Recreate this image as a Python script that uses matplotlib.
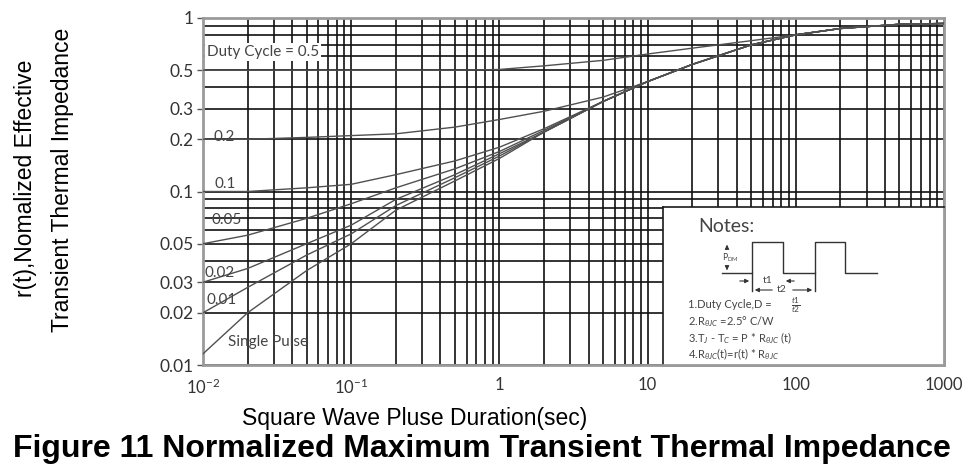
import numpy as np
import matplotlib.pyplot as plt
from matplotlib.ticker import LogLocator, NullFormatter, FixedLocator, FixedFormatter

# pulse duration (s)
t = [0.01, 0.02, 0.05, 0.1, 0.2, 0.5, 1, 2, 5, 10, 20, 50, 100, 200, 500, 1000]

# r(t) for each duty cycle
r_d50 = [0.50, 0.50, 0.50, 0.50, 0.50, 0.50, 0.505, 0.53, 0.57, 0.62, 0.67, 0.74, 0.80, 0.87, 0.92, 0.93]
r_d20 = [0.20, 0.20, 0.205, 0.21, 0.215, 0.235, 0.26, 0.29, 0.35, 0.43, 0.54, 0.70, 0.80, 0.87, 0.92, 0.93]
r_d10 = [0.10, 0.10, 0.105, 0.11, 0.125, 0.15, 0.18, 0.23, 0.33, 0.43, 0.54, 0.70, 0.80, 0.87, 0.92, 0.93]
r_d05 = [0.05, 0.056, 0.07, 0.085, 0.105, 0.135, 0.17, 0.225, 0.33, 0.43, 0.54, 0.70, 0.80, 0.87, 0.92, 0.93]
r_d02 = [0.03, 0.036, 0.05, 0.064, 0.09, 0.125, 0.165, 0.22, 0.33, 0.43, 0.54, 0.70, 0.80, 0.87, 0.92, 0.93]
r_d01 = [0.02, 0.028, 0.043, 0.057, 0.083, 0.12, 0.16, 0.22, 0.33, 0.43, 0.54, 0.70, 0.80, 0.87, 0.92, 0.93]
r_single = [0.0116, 0.02, 0.035, 0.05, 0.078, 0.115, 0.155, 0.22, 0.33, 0.43, 0.54, 0.70, 0.80, 0.87, 0.92, 0.93]

curves = [r_d50, r_d20, r_d10, r_d05, r_d02, r_d01, r_single]

y_ticks = [0.01, 0.02, 0.03, 0.05, 0.1, 0.2, 0.3, 0.5, 1]
y_labels = ['0.01', '0.02', '0.03', '0.05', '0.1', '0.2', '0.3', '0.5', '1']
x_ticks = [0.01, 0.1, 1, 10, 100, 1000]
x_labels = [r'$\mathregular{10^{-2}}$', r'$\mathregular{10^{-1}}$', '1', '10', '100', '1000']

plt.rcParams['mathtext.fontset'] = 'custom'
plt.rcParams['mathtext.rm'] = 'Lato'
plt.rcParams['mathtext.it'] = 'Lato:italic'

narrow = ['Liberation Sans Narrow', 'DejaVu Sans Condensed', 'Liberation Sans']
tickfont = ['Lato', 'DejaVu Sans']

fig = plt.figure(figsize=(9.66, 4.75), dpi=100)
ax = fig.add_axes([203 / 966, 1 - 365 / 475, 741 / 966, 347 / 475])

for r in curves:
    ax.plot(t, r, color='#505050', lw=1.0, zorder=3)

ax.set_xscale('log')
ax.set_yscale('log')
ax.set_xlim(0.01, 1000)
ax.set_ylim(0.01, 1.0)

ax.xaxis.set_major_locator(FixedLocator(x_ticks))
ax.xaxis.set_major_formatter(FixedFormatter(x_labels))
ax.xaxis.set_minor_locator(LogLocator(base=10, subs=np.arange(2, 10)))
ax.xaxis.set_minor_formatter(NullFormatter())
ax.yaxis.set_major_locator(FixedLocator(y_ticks))
ax.yaxis.set_major_formatter(FixedFormatter(y_labels))
ax.yaxis.set_minor_locator(LogLocator(base=10, subs=np.arange(2, 10)))
ax.yaxis.set_minor_formatter(NullFormatter())

ax.grid(True, which='both', color='#111111', lw=1.2, zorder=1)
ax.set_axisbelow(True)
ax.tick_params(axis='x', which='both', length=0, pad=9, labelsize=12, labelcolor='#333333')
ax.tick_params(axis='y', which='major', length=4, width=1, color='#555555', pad=3,
               labelsize=12.5, labelcolor='#333333')
ax.tick_params(axis='y', which='minor', length=0)
for lab in ax.get_xticklabels() + ax.get_yticklabels():
    lab.set_family(tickfont)
for s in ax.spines.values():
    s.set_color('#9a9a9a')
    s.set_linewidth(2)

# curve labels
lab_kw = dict(transform=ax.transAxes, fontsize=11, color='#444444', family=tickfont, zorder=5)
ax.text(0.005, 0.902, 'Duty Cycle = 0.5', va='center', ha='left',
        bbox=dict(facecolor='white', edgecolor='none', pad=1.5), **lab_kw)
ax.text(0.0135, 0.657, '0.2', va='center', **lab_kw)
ax.text(0.016, 0.522, '0.1', va='center', **lab_kw)
ax.text(0.012, 0.418, '0.05', va='center', **lab_kw)
ax.text(0.002, 0.265, '0.02', va='center', **lab_kw)
ax.text(0.005, 0.187, '0.01', va='center', **lab_kw)
ax.text(0.034, 0.066, 'Single Pulse', va='center', **lab_kw)

# notes box with pulse diagram (pixel coordinates of the figure)
nb = fig.add_axes([663 / 966, 1 - 365 / 475, 281 / 966, 158 / 475], zorder=4)
nb.set_xlim(663, 944)
nb.set_ylim(365, 207)
nb.set_xticks([])
nb.set_yticks([])
nb.set_facecolor('white')
nb.spines['top'].set_color('#1a1a1a')
nb.spines['left'].set_color('#1a1a1a')
nb.spines['top'].set_linewidth(1.2)
nb.spines['left'].set_linewidth(1.2)
nb.spines['right'].set_color('#9a9a9a')
nb.spines['bottom'].set_color('#9a9a9a')
nb.spines['right'].set_linewidth(2)
nb.spines['bottom'].set_linewidth(2)

nfont = tickfont
nb.text(698, 227, 'Notes:', fontsize=14, color='#444444', family=nfont, va='center')
wx = [722, 752, 752, 783, 783, 815, 815, 845, 845, 877]
wy = [273, 273, 242, 242, 273, 273, 242, 242, 273, 273]
nb.plot(wx, wy, color='#333333', lw=1.0)
nb.plot([752, 752], [273, 291], color='#333333', lw=1.0)
nb.plot([815, 815], [273, 291], color='#333333', lw=1.0)
arr = dict(arrowstyle='-|>', color='#333333', lw=0.8, mutation_scale=6)
nb.annotate('', xy=(727, 242), xytext=(727, 250), arrowprops=arr)
nb.annotate('', xy=(727, 273), xytext=(727, 265), arrowprops=arr)
nb.text(722, 258, r'P$_{\rm DM}$', fontsize=6, color='#444444', va='center')
nb.annotate('', xy=(752, 281), xytext=(737, 281), arrowprops=arr)
nb.annotate('', xy=(783, 281), xytext=(797, 281), arrowprops=arr)
nb.text(768, 281, 't1', fontsize=7.5, color='#444444', ha='center', va='center', family=nfont)
nb.annotate('', xy=(752, 290), xytext=(775, 290), arrowprops=arr)
nb.annotate('', xy=(815, 290), xytext=(790, 290), arrowprops=arr)
nb.text(782, 290, 't2', fontsize=7.5, color='#444444', ha='center', va='center', family=nfont)

note_kw = dict(fontsize=8, color='#444444', family=nfont, va='center')
nb.text(688, 305, '1.Duty Cycle,D =', **note_kw)
nb.text(791, 305, r'$\frac{t1}{t2}$', fontsize=8.5, color='#444444', va='center')
nb.text(688, 322, '2.R$_{\\theta JC}$ =2.5° C/W', **note_kw)
nb.text(688, 338, '3.T$_J$ - T$_C$ = P * R$_{\\theta JC}$ (t)', **note_kw)
nb.text(688, 354, '4.R$_{\\theta JC}$(t)=r(t) * R$_{\\theta JC}$', **note_kw)

# axis titles
fig.text(26 / 966, 1 - 178 / 475, 'r(t),Nomalized Effective', rotation=90,
         ha='center', va='center', fontsize=16.5, family=narrow)
fig.text(63 / 966, 1 - 180 / 475, 'Transient Thermal Impedance', rotation=90,
         ha='center', va='center', fontsize=16.5, family=narrow)
fig.text(415 / 966, 1 - 418 / 475, 'Square Wave Pluse Duration(sec)',
         ha='center', va='center', fontsize=16.5, family=narrow)
fig.text(482 / 966, 1 - 449 / 475, 'Figure 11 Normalized Maximum Transient Thermal Impedance',
         ha='center', va='center', fontsize=23, fontweight='bold',
         family=['Liberation Sans', 'DejaVu Sans'])

fig.savefig('out.png', dpi=100)
